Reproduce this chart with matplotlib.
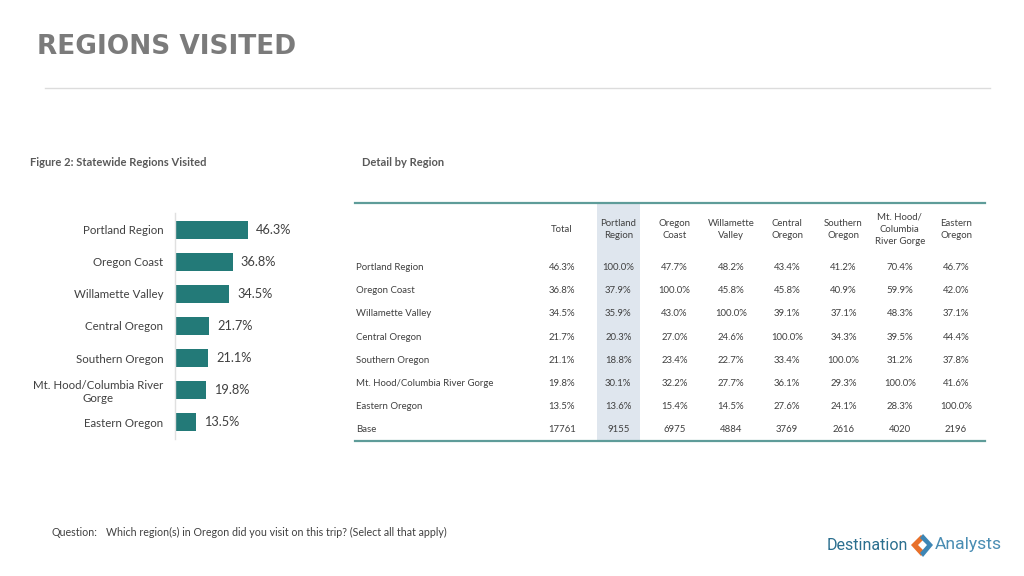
import matplotlib
matplotlib.use("Agg")
import matplotlib.pyplot as plt
from matplotlib.patches import Rectangle, Polygon

# ---------------- data ----------------
regions = ["Portland Region", "Oregon Coast", "Willamette Valley", "Central Oregon",
           "Southern Oregon", "Mt. Hood/Columbia River\nGorge", "Eastern Oregon"]
visited = [46.3, 36.8, 34.5, 21.7, 21.1, 19.8, 13.5]

col_headers = ["Total", "Portland\nRegion", "Oregon\nCoast", "Willamette\nValley",
               "Central\nOregon", "Southern\nOregon", "Mt. Hood/\nColumbia\nRiver Gorge",
               "Eastern\nOregon"]
row_labels = ["Portland Region", "Oregon Coast", "Willamette Valley", "Central Oregon",
              "Southern Oregon", "Mt. Hood/Columbia River Gorge", "Eastern Oregon"]
table_values = [
    [46.3, 100.0, 47.7, 48.2, 43.4, 41.2, 70.4, 46.7],
    [36.8, 37.9, 100.0, 45.8, 45.8, 40.9, 59.9, 42.0],
    [34.5, 35.9, 43.0, 100.0, 39.1, 37.1, 48.3, 37.1],
    [21.7, 20.3, 27.0, 24.6, 100.0, 34.3, 39.5, 44.4],
    [21.1, 18.8, 23.4, 22.7, 33.4, 100.0, 31.2, 37.8],
    [19.8, 30.1, 32.2, 27.7, 36.1, 29.3, 100.0, 41.6],
    [13.5, 13.6, 15.4, 14.5, 27.6, 24.1, 28.3, 100.0],
]
base_label = "Base"
base_values = [17761, 9155, 6975, 4884, 3769, 2616, 4020, 2196]

title = "REGIONS VISITED"
fig_title = "Figure 2: Statewide Regions Visited"
detail_title = "Detail by Region"
question_label = "Question:"
question_text = "Which region(s) in Oregon did you visit on this trip? (Select all that apply)"

# ---------------- style ----------------
W, H = 1024, 576
FONT = "Lato"
TXT = "#404040"
TEAL = "#237a78"
plt.rcParams["font.family"] = [FONT, "DejaVu Sans"]

fig = plt.figure(figsize=(W / 100, H / 100), dpi=100)
fig.patch.set_facecolor("white")

# overlay axes in pixel coordinates
ov = fig.add_axes([0, 0, 1, 1])
ov.set_xlim(0, W)
ov.set_ylim(H, 0)
ov.axis("off")

# title
ov.text(37, 47, title, fontsize=19, fontweight="bold", color="#7b7b7b",
        family="DejaVu Sans", va="center", ha="left")
ov.plot([45, 990], [88, 88], color="#dcdcdc", lw=1)

ov.text(30, 162, fig_title, fontsize=8, fontweight="bold", color="#595959",
        va="center", ha="left")
ov.text(362, 162, detail_title, fontsize=8, fontweight="bold", color="#595959",
        va="center", ha="left")

# ---------------- bar chart ----------------
bx0, bx1, by0, by1 = 175, 335, 213, 439
ax = fig.add_axes([bx0 / W, 1 - by1 / H, (bx1 - bx0) / W, (by1 - by0) / H])
px_per_pct = 73 / 46.3
ax.set_xlim(0, (bx1 - bx0) / px_per_pct)
n = len(regions)
ax.set_ylim(n - 1 + 0.53, -0.53)
ypos = list(range(n))
ax.barh(ypos, visited, height=0.56, color=TEAL)
for y, v in zip(ypos, visited):
    ax.text(v + 5, y, f"{v:.1f}%", va="center", ha="left", fontsize=9.2,
            color=TXT)
ax.set_yticks(ypos)
ax.set_yticklabels(regions, fontsize=8.3, color=TXT, multialignment="center",
                   linespacing=1.25)
ax.tick_params(axis="y", length=0, pad=8.5)
ax.set_xticks([])
for s in ["top", "right", "bottom"]:
    ax.spines[s].set_visible(False)
ax.spines["left"].set_color("#e0e0e0")
ax.spines["left"].set_linewidth(1)
ax.patch.set_alpha(0)

# ---------------- table ----------------
tx0, tx1 = 355, 985
ttop, tbot = 203, 441
col_x0, col_dx = 562, 56.3
row_y0, row_dy = 267.5, 23.2
hdr_y = 229.5
hl_left, hl_right = 597, 640

ov.add_patch(Rectangle((hl_left, ttop), hl_right - hl_left, tbot - ttop,
                       facecolor="#dfe6ee", edgecolor="none", zorder=0))
ov.plot([tx0, tx1], [ttop, ttop], color="#5e9c99", lw=1.6)
ov.plot([tx0, tx1], [tbot, tbot], color="#5e9c99", lw=1.6)

TFS = 6.9
for j, h in enumerate(col_headers):
    ov.text(col_x0 + j * col_dx, hdr_y, h, fontsize=TFS, color=TXT,
            ha="center", va="center", linespacing=1.45)

for i, (lab, vals) in enumerate(zip(row_labels, table_values)):
    y = row_y0 + i * row_dy
    ov.text(356, y, lab, fontsize=TFS, color=TXT, ha="left", va="center")
    for j, v in enumerate(vals):
        ov.text(col_x0 + j * col_dx, y, f"{v:.1f}%", fontsize=TFS, color=TXT,
                ha="center", va="center")
yb = row_y0 + len(row_labels) * row_dy
ov.text(356, yb, base_label, fontsize=TFS, color=TXT, ha="left", va="center")
for j, v in enumerate(base_values):
    ov.text(col_x0 + j * col_dx, yb, f"{v}", fontsize=TFS, color=TXT,
            ha="center", va="center")

# ---------------- footer ----------------
ov.text(52, 532, question_label, fontsize=7.7, color=TXT, ha="left", va="center")
ov.text(106, 532, question_text, fontsize=7.7, color=TXT, ha="left", va="center")

# logo
ov.text(908, 545, "Destination", fontsize=11.5, color="#2b6f8f", ha="right",
        va="center", family="Roboto")
ov.text(935, 545, "Analysts", fontsize=12.6, color="#4a8db3", ha="left",
        va="center", family="Roboto")
ov.add_patch(Polygon([(921, 535), (911, 545), (921, 556), (925, 552), (918, 545), (925, 538)],
                     closed=True, facecolor="#e8702a", edgecolor="none"))
ov.add_patch(Polygon([(923, 534), (933, 545), (923, 557), (920, 553), (927, 545), (920, 538)],
                     closed=True, facecolor="#3d86b5", edgecolor="none"))

fig.savefig("out.png", dpi=100, facecolor="white")
